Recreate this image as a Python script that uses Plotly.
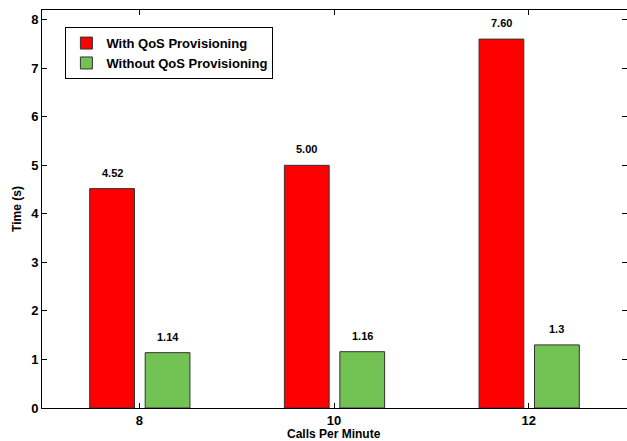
import plotly.graph_objects as go

calls = [8, 10, 12]
with_qos = [4.52, 5.00, 7.60]
without_qos = [1.14, 1.16, 1.3]
with_labels = ["4.52", "5.00", "7.60"]
without_labels = ["1.14", "1.16", "1.3"]
y_ticks = [0, 1, 2, 3, 4, 5, 6, 7, 8]

FONT = "Liberation Sans, Arial, Helvetica, sans-serif"
BAR_W = 0.46
OFF_RED = -0.51
OFF_GREEN = 0.06

fig = go.Figure()
fig.add_trace(go.Bar(
    x=calls, y=with_qos, name="With QoS Provisioning",
    width=BAR_W, offset=OFF_RED,
    marker=dict(color="#FF0000", line=dict(color="#333333", width=1)),
))
fig.add_trace(go.Bar(
    x=calls, y=without_qos, name="Without QoS Provisioning",
    width=BAR_W, offset=OFF_GREEN,
    marker=dict(color="#73C254", line=dict(color="#333333", width=1)),
))

for xs, ys, labels, off in [(calls, with_qos, with_labels, OFF_RED),
                            (calls, without_qos, without_labels, OFF_GREEN)]:
    for xv, yv, lab in zip(xs, ys, labels):
        fig.add_annotation(
            x=xv + off + BAR_W / 2, y=yv, text=lab, showarrow=False,
            yanchor="bottom", yshift=8,
            font=dict(family=FONT, size=11, color="black", weight="bold"),
        )

# x-axis title placed as an annotation below the tick labels
fig.add_annotation(
    x=10, xref="x", y=0, yref="paper", text="Calls Per Minute",
    showarrow=False, yanchor="top", yshift=-17,
    font=dict(family=FONT, size=12, color="black", weight="bold"),
)

fig.update_layout(
    barmode="group",
    width=627, height=441,
    plot_bgcolor="white", paper_bgcolor="white",
    margin=dict(l=42, r=0, t=10, b=33),
    font=dict(family=FONT, size=12, color="black", weight="bold"),
    showlegend=True,
    legend=dict(
        x=0.04, y=0.957, xanchor="left", yanchor="top",
        bgcolor="white", bordercolor="black", borderwidth=1,
        font=dict(family=FONT, size=13, color="black", weight="bold"),
        tracegroupgap=0, itemwidth=30,
    ),
)
fig.update_xaxes(
    range=[7, 13.01], tickvals=calls, ticktext=[str(c) for c in calls],
    ticks="inside", ticklen=5, tickcolor="black",
    showline=True, linecolor="black", linewidth=1, mirror="ticks",
    showgrid=False, zeroline=False, automargin=False,
    tickfont=dict(family=FONT, size=13, weight="bold"),
)
fig.update_yaxes(
    range=[0, 8.2], tickvals=y_ticks,
    ticks="inside", ticklen=5, tickcolor="black",
    showline=True, linecolor="black", linewidth=1, mirror="ticks",
    showgrid=False, zeroline=False, automargin=False,
    title=dict(text="Time (s)", standoff=6,
               font=dict(family=FONT, size=12, weight="bold")),
    tickfont=dict(family=FONT, size=13, weight="bold"),
)

fig.write_html(
    "out.html",
    config={"displayModeBar": False},
    post_script="document.body.style.margin='0';document.body.style.overflow='hidden';",
)
